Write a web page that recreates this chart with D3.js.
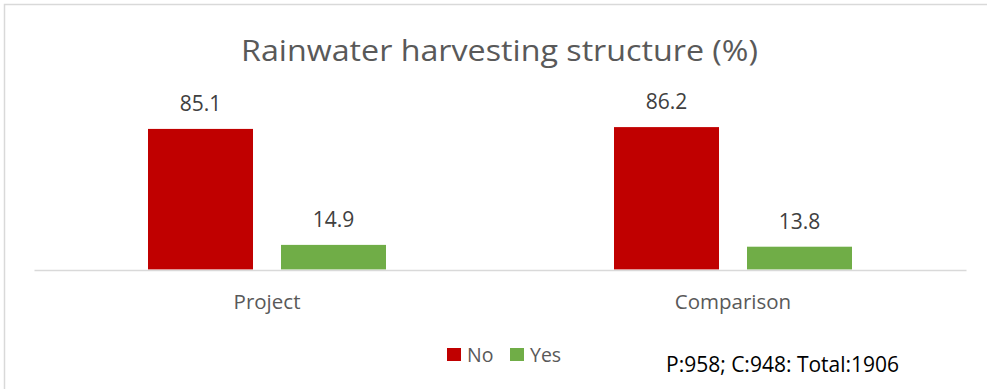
<!DOCTYPE html>
<html>
<head>
<meta charset="utf-8">
<script src="https://cdn.jsdelivr.net/npm/d3@7"></script>
<style>
  html, body { margin: 0; padding: 0; background: #fff; }
  svg { display: block; font-family: "Open Sans", sans-serif; }
</style>
</head>
<body>
<svg id="chart" width="987" height="389"></svg>
<script>
const categories = ["Project", "Comparison"];
const seriesNames = ["No", "Yes"];
const noValues = [85.1, 86.2];
const yesValues = [14.9, 13.8];
const seriesColors = ["#C00000", "#70AD47"];
const titleText = "Rainwater harvesting structure (%)";
const noteText = "P:958; C:948: Total:1906";

const rows = categories.map((c, i) => ({ cat: c, values: [
  { key: "No", v: noValues[i] }, { key: "Yes", v: yesValues[i] }
]}));

const svg = d3.select("#chart");

// outer border (chart area frame)
svg.append("rect")
  .attr("x", 4.5).attr("y", 4.5).attr("width", 1100).attr("height", 500)
  .attr("fill", "none").attr("stroke", "#d9d9d9").attr("stroke-width", 1.5);

// title
svg.append("text")
  .attr("x", 499.5).attr("y", 61)
  .attr("text-anchor", "middle")
  .attr("font-size", 30).attr("fill", "#595959")
  .attr("textLength", 517).attr("lengthAdjust", "spacingAndGlyphs")
  .text(titleText);

const x0 = d3.scaleBand().domain(categories).range([34, 966]).padding(0);
const x1 = d3.scaleBand().domain(seriesNames).range([114, 352]).paddingInner(0.2105).paddingOuter(0);
const y = d3.scaleLinear().domain([0, 100]).range([269.5, 104.3]);
const color = d3.scaleOrdinal().domain(seriesNames).range(seriesColors);

// bars
const g = svg.append("g");
const groups = g.selectAll("g.cat").data(rows).join("g")
  .attr("class", "cat")
  .attr("transform", d => `translate(${x0(d.cat)},0)`);

groups.selectAll("rect").data(d => d.values).join("rect")
  .attr("x", d => x1(d.key))
  .attr("y", d => y(d.v))
  .attr("width", x1.bandwidth())
  .attr("height", d => y(0) - y(d.v))
  .attr("fill", d => color(d.key));

groups.selectAll("text").data(d => d.values).join("text")
  .attr("x", d => x1(d.key) + x1.bandwidth() / 2)
  .attr("y", d => y(d.v) - 18)
  .attr("text-anchor", "middle")
  .attr("font-size", 21).attr("fill", "#404040")
  .text(d => d.v.toFixed(1));

// x axis
const xAxis = d3.axisBottom(x0).tickSize(0).tickPadding(0);
const axG = svg.append("g").attr("transform", "translate(0,270)").call(xAxis);
axG.select(".domain").attr("stroke", "#d9d9d9").attr("stroke-width", 1.5);
axG.selectAll(".tick text")
  .attr("font-size", 20.5).attr("fill", "#595959")
  .attr("font-family", "Open Sans, sans-serif")
  .attr("dy", null).attr("y", 39);

// legend
const leg = svg.append("g");
const legX = [447, 510];
seriesNames.forEach((s, i) => {
  leg.append("rect").attr("x", legX[i]).attr("y", 348).attr("width", 14).attr("height", 13)
    .attr("fill", color(s));
  leg.append("text").attr("x", legX[i] + 20).attr("y", 361.5)
    .attr("font-size", 19.5).attr("fill", "#595959").text(s);
});

// note
svg.append("text")
  .attr("x", 666).attr("y", 371.5)
  .attr("font-size", 21).attr("fill", "#000")
  .text(noteText);
</script>
</body>
</html>
